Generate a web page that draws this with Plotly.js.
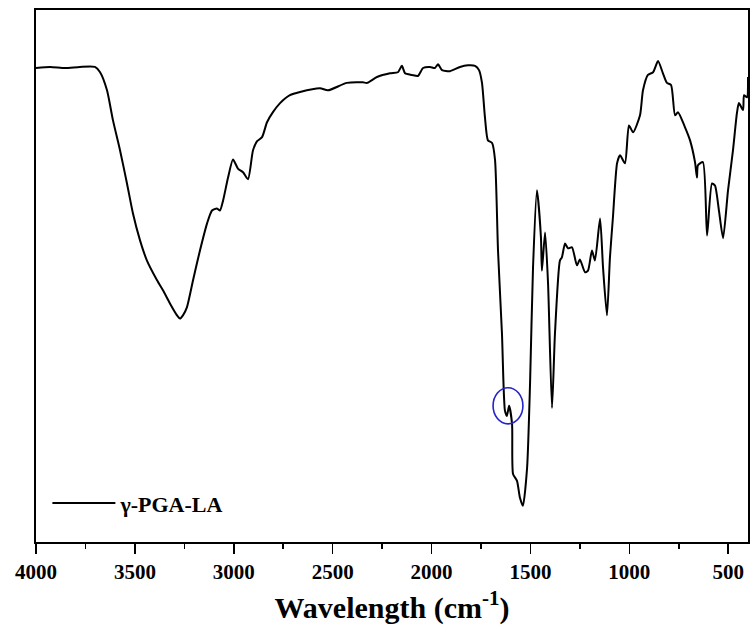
<!DOCTYPE html>
<html>
<head>
<meta charset="utf-8">
<script src="https://cdn.plot.ly/plotly-3.0.1.min.js"></script>
<style>html,body{margin:0;padding:0;background:#fff;}#chart{width:750px;height:638px;}</style>
</head>
<body>
<div id="chart"></div>
<script>
const wavenumber = [4000,3929,3853,3778,3702,3676,3641,3611,3575,3540,3510,3474,3439,3388,3358,3322,3287,3272,3257,3237,3206,3171,3135,3110,3085,3070,3054,3029,3004,2979,2953,2928,2903,2883,2857,2832,2802,2766,2716,2665,2564,2524,2428,2347,2326,2276,2210,2170,2150,2134,2099,2069,2043,2008,1983,1967,1947,1907,1856,1816,1780,1760,1745,1730,1715,1694,1679,1664,1644,1629,1619,1608,1593,1588,1568,1553,1538,1517,1502,1487,1467,1447,1442,1426,1411,1391,1376,1351,1341,1325,1310,1290,1265,1250,1224,1209,1189,1174,1148,1133,1113,1098,1083,1062,1047,1022,1002,981,946,931,906,880,855,830,810,789,769,754,719,693,668,658,653,628,607,582,567,547,526,501,476,456,446,425,420,405,400];
const transmittance = [89.1,89.3,89.1,89.3,89.3,88.3,84.9,79.3,73.6,67.4,61.8,56.7,52.9,49.2,47.3,44.8,42.6,42.0,42.6,44.1,49.2,54.8,59.9,62.3,62.7,62.3,64.2,68.5,71.9,70.2,69.5,68.2,73.6,75.3,76.1,78.9,80.8,82.5,84.0,84.6,85.3,84.9,86.3,86.4,86.3,87.4,88.1,88.3,89.5,88.1,87.8,87.6,89.1,89.3,89.1,89.8,88.7,88.5,89.3,89.6,89.5,88.7,86.3,79.8,75.5,75.0,71.8,54.8,39.2,24.7,23.7,25.6,22.2,12.8,11.5,8.3,6.8,13.9,29.8,51.6,66.1,57.3,51.0,58.2,48.6,25.2,39.2,52.9,53.5,56.1,55.2,55.4,52.0,53.1,50.7,51.0,54.8,52.9,60.8,51.6,42.6,53.5,61.0,71.2,72.7,71.2,78.3,77.0,80.2,84.9,87.8,88.3,90.4,88.1,86.3,85.9,80.2,80.8,78.0,75.5,71.4,68.5,70.8,71.4,57.6,67.4,67.0,62.3,57.1,66.1,73.6,80.6,82.5,81.2,84.0,83.6,87.4];
const seriesName = "γ-PGA-LA";
const xTickVals = [4000,3500,3000,2500,2000,1500,1000,500];
const xTickText = ["4000","3500","3000","2500","2000","1500","1000","500"];
const xTitle = "Wavelength (cm<sup>-1</sup>)";
const highlightX = [1689, 1538];
const highlightY = [22.2, 29.0];

const serif = "'Liberation Serif', 'Times New Roman', serif";

const data = [{
  type: "scatter",
  mode: "lines",
  x: wavenumber,
  y: transmittance,
  name: seriesName,
  line: {color: "#000", width: 2, shape: "spline", smoothing: 0.6},
  showlegend: true
}];

const layout = {
  width: 750, height: 638,
  margin: {l: 36, r: 2, t: 10, b: 96},
  paper_bgcolor: "#fff", plot_bgcolor: "#fff",
  showlegend: true,
  legend: {
    x: 0.016, y: 0.073, xanchor: "left", yanchor: "middle",
    bgcolor: "rgba(0,0,0,0)", borderwidth: 0,
    itemwidth: 63,
    font: {family: serif, size: 22, color: "#000", weight: "bold"}
  },
  xaxis: {
    range: [4000, 400],
    showgrid: false, zeroline: false,
    showline: true, linecolor: "#000", linewidth: 1.6, mirror: true,
    ticks: "outside", ticklen: 10, tickwidth: 1.6, tickcolor: "#000",
    tickvals: xTickVals, ticktext: xTickText,
    minor: {dtick: 250, ticks: "outside", ticklen: 5, tickwidth: 1.6, tickcolor: "#000", showgrid: false},
    tickfont: {family: serif, size: 21, color: "#000", weight: "bold"},
    title: {text: xTitle, font: {family: serif, size: 30, color: "#000", weight: "bold"}, standoff: 14}
  },
  yaxis: {
    range: [0, 100],
    showgrid: false, zeroline: false,
    showline: true, linecolor: "#000", linewidth: 1.6, mirror: true,
    ticks: "", showticklabels: false
  },
  shapes: [{
    type: "circle", xref: "x", yref: "y",
    x0: highlightX[0], x1: highlightX[1], y0: highlightY[0], y1: highlightY[1],
    line: {color: "#2424c8", width: 1.6}
  }]
};

Plotly.newPlot("chart", data, layout, {staticPlot: true, displayModeBar: false});
</script>
</body>
</html>
